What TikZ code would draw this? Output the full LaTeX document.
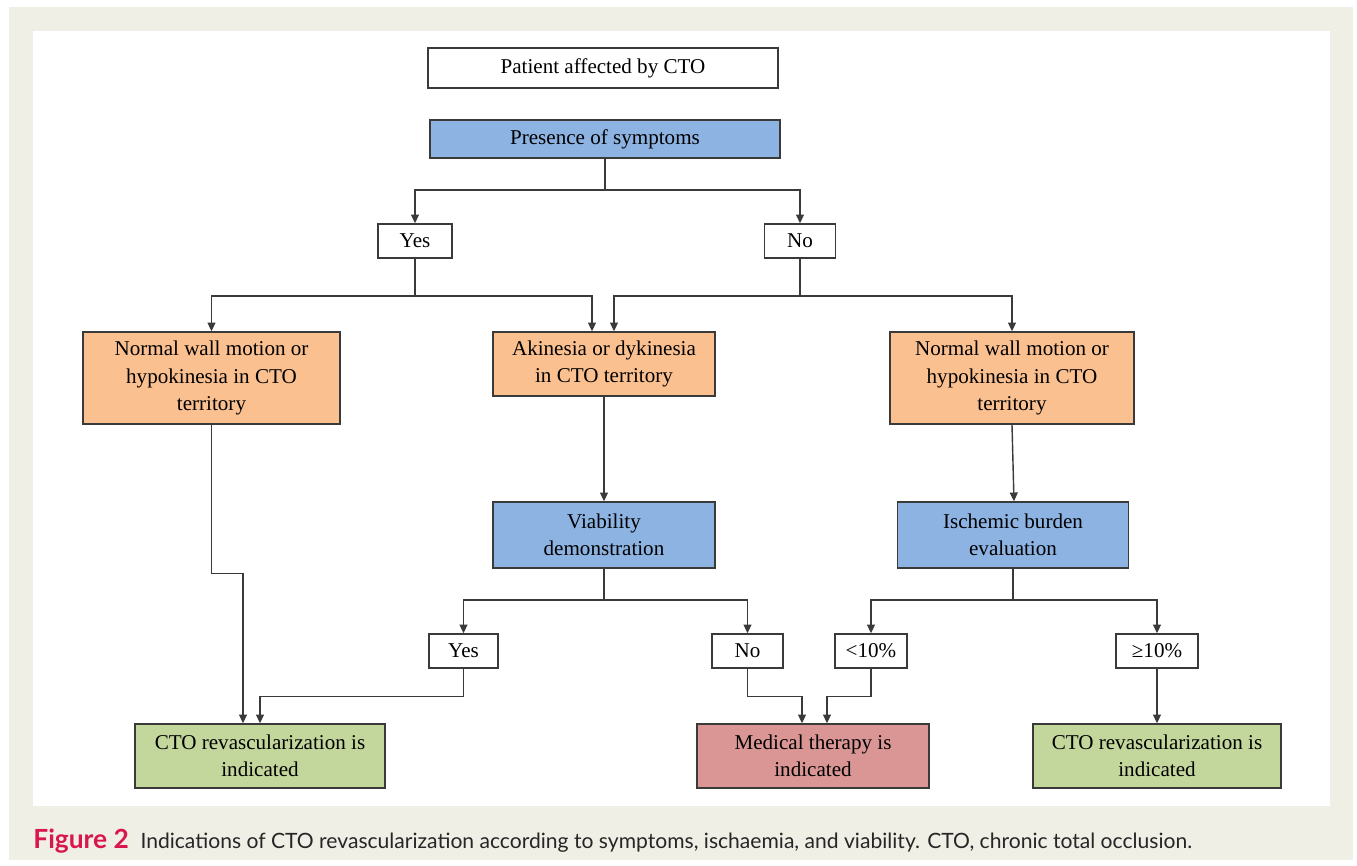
\documentclass[tikz,border=0pt]{standalone}
\usepackage{amsmath,amssymb}
\usepackage{fontspec}
\setmainfont{Liberation Serif}
\newfontfamily\capfont{Lato}
\usepackage{tikz}
\usetikzlibrary{arrows.meta,calc}

\definecolor{panelbg}{HTML}{F0EFE6}
\definecolor{boxblue}{HTML}{8DB3E2}
\definecolor{boxorange}{HTML}{FAC090}
\definecolor{boxgreen}{HTML}{C3D69B}
\definecolor{boxred}{HTML}{D99694}
\definecolor{figred}{HTML}{D8174F}
\definecolor{edge}{HTML}{3A3A3A}

\begin{document}
\begin{tikzpicture}[x=0.02cm,y=-0.02cm,
  box/.style={draw=edge,line width=0.8pt,inner sep=0pt,align=center,
    font=\fontsize{12}{15.4}\selectfont},
  answer/.style={box,fill=white,minimum width=1.42cm,minimum height=0.68cm},
  arr/.style={-{Triangle[width=4.5pt,length=5pt]},draw=edge,line width=0.8pt},
  link/.style={draw=edge,line width=0.8pt}]
\useasboundingbox (0,0) rectangle (1357,866);
\fill[panelbg] (9,7) rectangle (1353,860);
\fill[white] (33,31) rectangle (1330,806);

% top of the tree
\node[box,fill=white,minimum width=7cm,minimum height=0.8cm] (pat) at (603,68) {Patient affected by CTO};
\node[box,fill=boxblue,minimum width=7cm,minimum height=0.76cm] (pres) at (605,139) {Presence of symptoms};
\node[answer,minimum width=1.48cm] (yes1) at (415,241) {Yes};
\node[answer] (no1) at (800,241) {No};

% wall motion
\node[box,fill=boxorange,minimum width=5.14cm,minimum height=1.84cm] (normL) at (211.5,378) {Normal wall motion or\\hypokinesia in CTO\\territory};
\node[box,fill=boxorange,minimum width=4.44cm,minimum height=1.28cm] (akin) at (604,364) {Akinesia or dykinesia\\in CTO territory};
\node[box,fill=boxorange,minimum width=4.88cm,minimum height=1.84cm] (normR) at (1012,378) {Normal wall motion or\\hypokinesia in CTO\\territory};

% tests
\node[box,fill=boxblue,minimum width=4.44cm,minimum height=1.32cm] (viab) at (604,535) {Viability\\demonstration};
\node[box,fill=boxblue,minimum width=4.62cm,minimum height=1.32cm] (isch) at (1013,535) {Ischemic burden\\evaluation};
\node[answer,minimum width=1.38cm] (yes2) at (463.5,651) {Yes};
\node[answer] (no2) at (747.5,651) {No};
\node[answer,minimum width=1.44cm] (lt10) at (871,651) {<10\%};
\node[answer,minimum width=1.64cm] (ge10) at (1157,651) {≥10\%};

% outcomes
\node[box,fill=boxgreen,minimum width=5cm,minimum height=1.28cm] (revL) at (260,756) {CTO revascularization is\\indicated};
\node[box,fill=boxred,minimum width=4.64cm,minimum height=1.28cm] (med) at (813,756) {Medical therapy is\\indicated};
\node[box,fill=boxgreen,minimum width=4.96cm,minimum height=1.28cm] (revR) at (1157,756) {CTO revascularization is\\indicated};

% connectors
\coordinate (j1) at (605,190);
\draw[link] (pres.south) -- (j1);
\draw[arr] (j1) -| (yes1.north);
\draw[arr] (j1) -| (no1.north);

\coordinate (j2) at (415,296);
\draw[link] (yes1.south) -- (j2);
\draw[arr] (j2) -| (normL.north);
\draw[arr] (j2) -| ($(akin.north)+(-12,0)$);
\coordinate (j3) at (800,296);
\draw[link] (no1.south) -- (j3);
\draw[arr] (j3) -| ($(akin.north)+(10,0)$);
\draw[arr] (j3) -| (normR.north);

\draw[arr] (normL.south) -- ++(0,149) -| ($(revL.north)+(-17,0)$);
\draw[arr] (akin.south) -- (viab.north);
\draw[arr] (normR.south) -- ($(isch.north)+(1,0)$);

\coordinate (j4) at (604,600);
\draw[link] (viab.south) -- (j4);
\draw[arr] (j4) -| (yes2.north);
\draw[arr] (j4) -| (no2.north);
\coordinate (j5) at (1013,600);
\draw[link] (isch.south) -- (j5);
\draw[arr] (j5) -| (lt10.north);
\draw[arr] (j5) -| (ge10.north);

\draw[arr] (yes2.south) -- ++(0,28) -| (revL.north);
\draw[arr] (no2.south) -- ++(0,28) -| ($(med.north)+(-11,0)$);
\draw[arr] (lt10.south) -- ++(0,28) -| ($(med.north)+(14,0)$);
\draw[arr] (ge10.south) -- (revR.north);

% caption
\node[anchor=base west,inner sep=0pt,font=\capfont\fontsize{12}{15}\selectfont,text=black!85] (cap) at (33,848)
  {\textcolor{figred}{\fontsize{15}{15}\selectfont\bfseries Figure 2}\hspace{0.55em}Indications of CTO revascularization according to symptoms, ischaemia, and viability. CTO, chronic total occlusion.};
\end{tikzpicture}
\end{document}
